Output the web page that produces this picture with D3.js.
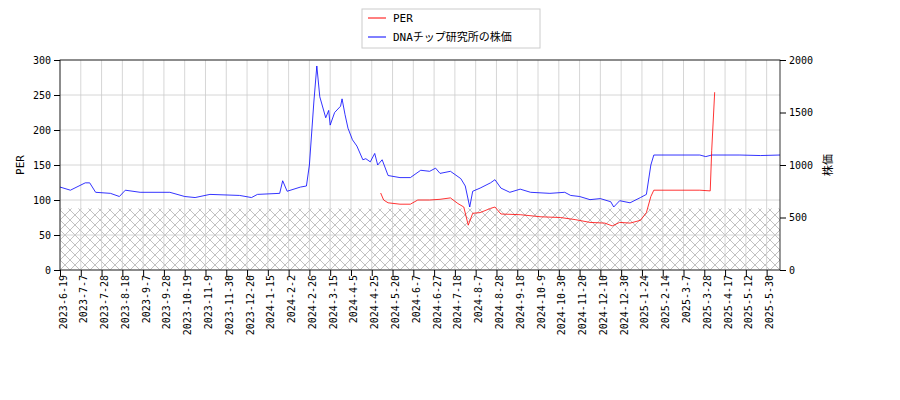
<!DOCTYPE html><html><head><meta charset="utf-8"><script src="https://cdn.jsdelivr.net/npm/d3@7"></script>
<style>body{margin:0;background:#fff}text{font-family:"DejaVu Sans Mono","Noto Sans CJK JP";}</style></head><body><svg id="c" width="900" height="400"></svg><script>
const tickLabels=["2023-6-19","2023-7-7","2023-7-28","2023-8-18","2023-9-7","2023-9-28","2023-10-19","2023-11-9","2023-11-30","2023-12-20","2024-1-15","2024-2-2","2024-2-26","2024-3-15","2024-4-5","2024-4-25","2024-5-20","2024-6-7","2024-6-27","2024-7-18","2024-8-7","2024-8-28","2024-9-18","2024-10-9","2024-10-30","2024-11-20","2024-12-10","2024-12-30","2025-1-24","2025-2-14","2025-3-7","2025-3-28","2025-4-17","2025-5-12","2025-5-30"];
const priceIdx=[0,7,17,20,24,34,40,44,54,74,84,91,101,121,129,133,148,150,153,162,166,168,171,173,175,179,181,182,185,189,190,192,194,197,200,204,206,209,212,214,217,221,229,236,243,249,253,256,263,270,273,276,278,283,290,293,297,303,310,317,330,340,344,350,357,364,371,373,377,384,391,395,398,400,431,435,439,458,472,485];
const priceVal=[790,760,830,830,740,730,700,760,740,740,700,690,720,710,690,720,730,850,750,790,800,1000,1600,1943,1650,1450,1520,1380,1500,1560,1630,1480,1350,1240,1180,1050,1060,1030,1110,1000,1050,900,880,880,950,940,970,920,940,870,800,600,750,780,830,860,780,740,770,740,730,740,710,700,670,680,650,600,660,640,690,720,1000,1095,1095,1080,1095,1095,1090,1095];
const perIdx=[216,218,221,229,236,241,249,256,263,268,272,275,278,283,290,293,297,310,324,337,347,357,367,372,377,384,391,395,398,400,431,438,439,441];
const perVal=[110,100,96,94,94,100,100,101,103,95,90,64,81,82,88,90,80,79,76,75,72,68,67,63,68,67,71,82,105,114,114,113,171,254];
const N=486;
const svg=d3.select("#c");
const L=60,R=780,T=60,B=270;
const x=d3.scaleLinear().domain([0,N-1]).range([L,R]);
const yL=d3.scaleLinear().domain([0,300]).range([B,T]);
const yR=d3.scaleLinear().domain([0,2000]).range([B,T]);
const defs=svg.append("defs");
const p=defs.append("pattern").attr("id","h").attr("patternUnits","userSpaceOnUse").attr("width",10).attr("height",10);
p.append("path").attr("d","M0,0L10,10M10,0L0,10").attr("stroke","#999").attr("stroke-width",0.6);
svg.append("rect").attr("x",L).attr("y",yL(88)).attr("width",R-L).attr("height",B-yL(88)).attr("fill","url(#h)");
const g=svg.append("g");
tickLabels.forEach((t,i)=>g.append("line").attr("x1",x(i*14)).attr("x2",x(i*14)).attr("y1",T).attr("y2",B).attr("stroke","#ccc").attr("stroke-width",0.8));
[0,50,100,150,200,250,300].forEach(v=>g.append("line").attr("x1",L).attr("x2",R).attr("y1",yL(v)).attr("y2",yL(v)).attr("stroke","#ccc").attr("stroke-width",0.8));
const line=(xs,ys,sc)=>d3.line()(xs.map((d,i)=>[x(d),sc(ys[i])]));
svg.append("path").attr("d",line(priceIdx,priceVal,yR)).attr("fill","none").attr("stroke","blue").attr("stroke-width",0.8);
svg.append("path").attr("d",line(perIdx,perVal,yL)).attr("fill","none").attr("stroke","red").attr("stroke-width",0.8);
svg.append("rect").attr("x",L).attr("y",T).attr("width",R-L).attr("height",B-T).attr("fill","none").attr("stroke","#000").attr("stroke-width",0.8);
const ax=svg.append("g").attr("transform",`translate(0,${B})`).call(d3.axisBottom(x).tickValues(tickLabels.map((d,i)=>i*14)).tickFormat((d,i)=>tickLabels[i]).tickSizeOuter(0));
ax.selectAll("text").attr("transform","rotate(-90)").attr("text-anchor","end").attr("dx","-0.5em").attr("dy","-0.3em").attr("font-size",10).attr("font-family","DejaVu Sans Mono");
ax.select(".domain").remove();
const al=svg.append("g").attr("transform",`translate(${L},0)`).call(d3.axisLeft(yL).tickValues([0,50,100,150,200,250,300]).tickSizeOuter(0));
al.selectAll("text").attr("font-size",10).attr("font-family","DejaVu Sans Mono");al.select(".domain").remove();
const ar=svg.append("g").attr("transform",`translate(${R},0)`).call(d3.axisRight(yR).tickValues([0,500,1000,1500,2000]).tickFormat(d3.format("d")).tickSizeOuter(0));
ar.selectAll("text").attr("font-size",10).attr("font-family","DejaVu Sans Mono");ar.select(".domain").remove();
svg.append("text").attr("transform","translate(24,165) rotate(-90)").attr("text-anchor","middle").attr("font-size",11).text("PER");
svg.append("text").attr("transform","translate(832,165) rotate(-90)").attr("text-anchor","middle").attr("font-size",11).text("株価");
const lg=svg.append("g");
lg.append("rect").attr("x",362).attr("y",9).attr("width",178).attr("height",39).attr("fill","#fff").attr("stroke","#ccc");
lg.append("line").attr("x1",368).attr("x2",386).attr("y1",18).attr("y2",18).attr("stroke","red");
lg.append("line").attr("x1",368).attr("x2",386).attr("y1",37).attr("y2",37).attr("stroke","blue");
lg.append("text").attr("x",393).attr("y",22).attr("font-size",11).text("PER");
lg.append("text").attr("x",393).attr("y",41).attr("font-size",11).text("DNAチップ研究所の株価");
</script></body></html>
